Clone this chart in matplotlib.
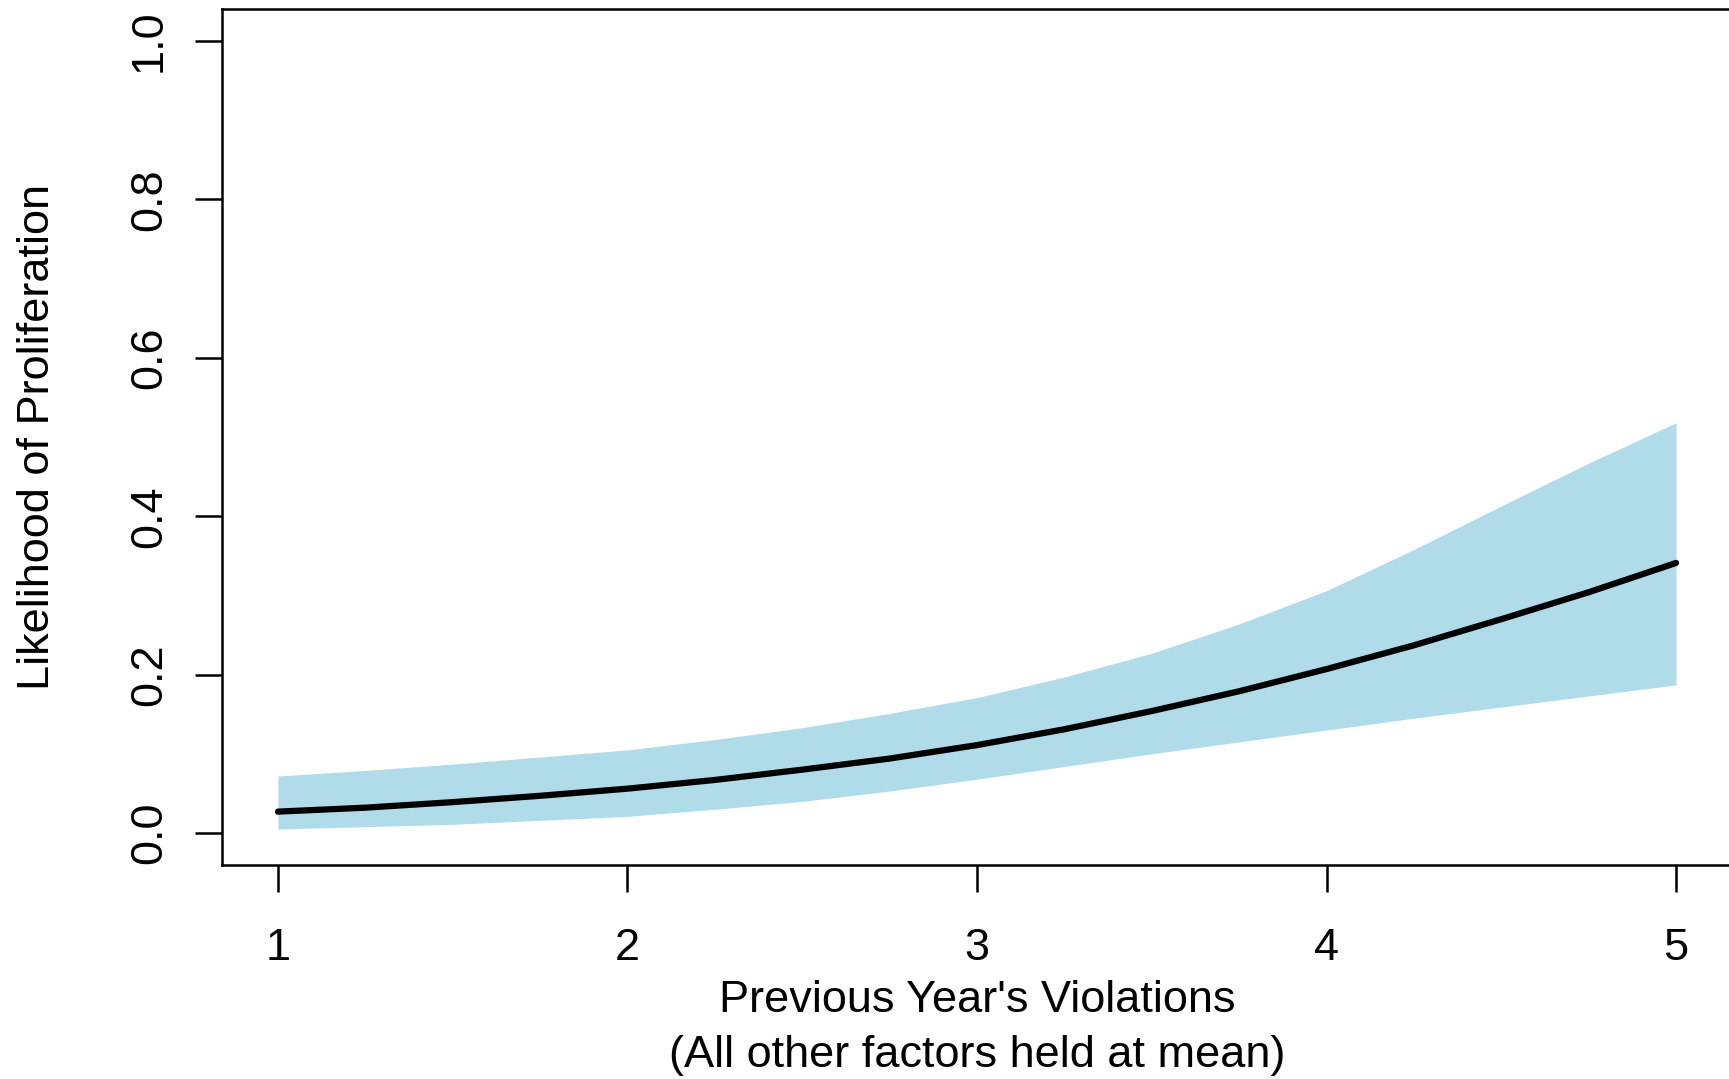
import matplotlib
matplotlib.use("Agg")
import matplotlib.pyplot as plt

plt.rcParams['font.family'] = ['Liberation Sans', 'DejaVu Sans']

violations = [1.0, 1.25, 1.5, 1.75, 2.0, 2.25, 2.5, 2.75, 3.0,
              3.25, 3.5, 3.75, 4.0, 4.25, 4.5, 4.75, 5.0]
mean_p  = [0.027, 0.032, 0.039, 0.047, 0.056, 0.067, 0.080, 0.094, 0.111,
           0.131, 0.154, 0.179, 0.207, 0.237, 0.270, 0.304, 0.341]
lower_p = [0.005, 0.008, 0.011, 0.016, 0.021, 0.030, 0.040, 0.053, 0.068,
           0.084, 0.100, 0.115, 0.130, 0.145, 0.159, 0.173, 0.187]
upper_p = [0.072, 0.079, 0.087, 0.096, 0.105, 0.118, 0.133, 0.151, 0.171,
           0.197, 0.227, 0.264, 0.306, 0.358, 0.413, 0.467, 0.518]

xticks = [1, 2, 3, 4, 5]
yticks = [0.0, 0.2, 0.4, 0.6, 0.8, 1.0]
ytick_labels = ["0.0", "0.2", "0.4", "0.6", "0.8", "1.0"]

W, H = 1729, 1079
FS = 32.5
fig = plt.figure(figsize=(W / 100, H / 100), dpi=100)
ax = fig.add_axes([222 / W, 1 - 864.7 / H, (1732 - 222) / W, (864.7 - 9.3) / H])

ax.fill_between(violations, lower_p, upper_p, color='#b0dcea', linewidth=0)
ax.plot(violations, mean_p, color='black', linewidth=4.5, solid_capstyle='round')

ax.set_xlim(0.84, 5.16)
ax.set_ylim(-0.04, 1.04)
ax.set_xticks(xticks)
ax.set_xticklabels([str(t) for t in xticks])
ax.set_yticks(yticks)
ax.set_yticklabels(ytick_labels, rotation=90, va='center')

for s in ax.spines.values():
    s.set_linewidth(1.8)
ax.tick_params(axis='both', length=19.4, width=1.8, labelsize=FS, direction='out')
ax.tick_params(axis='x', pad=26)
ax.tick_params(axis='y', pad=18)

fig.text(977 / W, 1 - 1001 / H, "Previous Year's Violations", ha='center', va='center', fontsize=FS)
fig.text(977 / W, 1 - 1055 / H, "(All other factors held at mean)", ha='center', va='center', fontsize=FS)
fig.text(38 / W, 1 - 437 / H, "Likelihood of Proliferation", ha='center', va='center', rotation=90, fontsize=FS)

fig.savefig("out.png", dpi=100)
